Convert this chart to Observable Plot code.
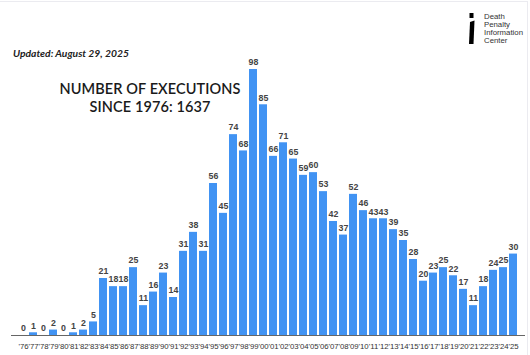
<!DOCTYPE html>
<html>
<head>
<meta charset="utf-8">
<script src="https://cdn.jsdelivr.net/npm/d3@7"></script>
<script src="https://cdn.jsdelivr.net/npm/@observablehq/plot@0.6"></script>
<style>
  html, body { margin: 0; padding: 0; background: #fff; }
  #wrap { position: relative; width: 530px; height: 355px; overflow: hidden; }
  #edge { position: absolute; left: 0; top: 1px; width: 527px; height: 360px; border-top: 1px solid #ebebf0; border-right: 1px solid #ebebf0; }
  #chart { position: absolute; left: 0; top: 0; }
  .ov { position: absolute; white-space: nowrap; }
  #updated { left: 13px; top: 47px; font: italic 700 10.3px Lato, sans-serif; color: #222; }
  #title { left: 50px; width: 200px; top: 80px; text-align: center; font: 600 14.5px/18px Lato, sans-serif; color: #1a1a1a; letter-spacing: 0.1px; }
  #org { left: 484px; top: 13px; font: 400 7.8px/8px "Liberation Sans", Arial, sans-serif; color: #333; }
  #logo { left: 466px; top: 12px; }
</style>
</head>
<body>
<div id="wrap">
  <div id="edge"></div>
  <div id="chart"></div>
  <div class="ov" id="updated">Updated: August 29, 2025</div>
  <div class="ov" id="title">NUMBER OF EXECUTIONS<br>SINCE 1976: 1637</div>
  <svg class="ov" id="logo" width="12" height="34" viewBox="0 0 12 34">
    <rect x="3.5" y="1" width="4" height="5" fill="#000"/>
    <path d="M4 10 L8.5 8.5 L7.5 32 L3 32 Z" fill="#000"/>
  </svg>
  <div class="ov" id="org">Death<br>Penalty<br>Information<br>Center</div>
</div>
<script>
const years = ["'76","'77","'78","'79","'80","'81","'82","'83","'84","'85","'86","'87","'88","'89","'90","'91","'92","'93","'94","'95","'96","'97","'98","'99","'00","'01","'02","'03","'04","'05","'06","'07","'08","'09","'10","'11","'12","'13","'14","'15","'16","'17","'18","'19","'20","'21","'22","'23","'24","'25"];
const executions = [0,1,0,2,0,1,2,5,21,18,18,25,11,16,23,14,31,38,31,56,45,74,68,98,85,66,71,65,59,60,53,42,37,52,46,43,43,39,35,28,20,23,25,22,17,11,18,24,25,30];

const data = years.map((y, i) => ({year: y, value: executions[i]}));

const chart = Plot.plot({
  width: 530,
  height: 355,
  marginLeft: 11,
  marginRight: 5,
  marginTop: 69,
  marginBottom: 20,
  style: {background: "transparent", fontFamily: "'Liberation Sans', Arial, sans-serif"},
  x: {domain: years, padding: 0.2, label: null, tickSize: 0, tickPadding: 7},
  y: {domain: [0, 98], axis: null},
  marks: [
    Plot.barY(data, {x: "year", y: "value", fill: "#4193f3"}),
    Plot.ruleY([0], {stroke: "#666", strokeWidth: 1}),
    Plot.text(data, {x: "year", y: "value", text: d => String(d.value), dy: -7, fill: "#444", fontSize: 8.8, fontWeight: "bold"}),
    Plot.axisX({tickSize: 0, tickPadding: 7.5, fontSize: 7.8, fill: "#333", label: null})
  ]
});
document.getElementById("chart").appendChild(chart);
</script>
</body>
</html>
